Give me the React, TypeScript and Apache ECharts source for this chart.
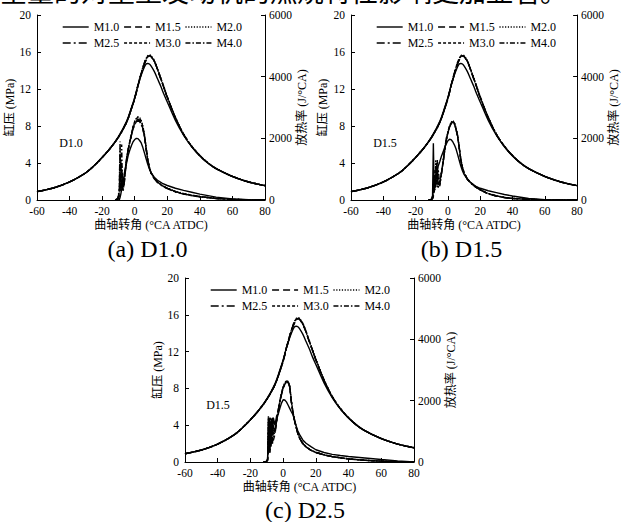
import React, { useEffect, useRef } from "react";
import * as echarts from "echarts";

const names = ["M1.0", "M1.5", "M2.0", "M2.5", "M3.0", "M4.0"];

// crank angle grid for cylinder pressure (°CA ATDC)
const crankP = [-60, -50, -40, -30, -25, -20, -15, -10, -5, -2, 0, 2, 4, 6, 7, 8, 9, 10, 12, 14, 16, 18, 20, 25, 30, 35, 40, 45, 50, 60, 70, 80];
// cylinder pressure (MPa)
const pM10 = [0.9, 1.3, 1.95, 2.95, 3.7, 4.6, 5.6, 6.85, 8.5, 10.0, 11.1, 12.4, 13.5, 14.4, 14.7, 14.75, 14.7, 14.5, 13.9, 13.1, 12.3, 11.4, 10.6, 8.6, 7.0, 5.75, 4.75, 3.98, 3.38, 2.54, 1.95, 1.55];
const pM15 = [0.9, 1.3, 1.95, 2.95, 3.7, 4.6, 5.6, 6.8, 8.4, 9.9, 11.0, 12.4, 13.7, 14.8, 15.2, 15.5, 15.6, 15.5, 15.0, 14.1, 13.1, 12.1, 11.1, 8.9, 7.1, 5.8, 4.8, 4.0, 3.4, 2.55, 1.95, 1.55];
const pM20 = [0.9, 1.3, 1.95, 2.95, 3.7, 4.6, 5.6, 6.8, 8.4, 9.9, 11.0, 12.45, 13.75, 14.9, 15.3, 15.6, 15.7, 15.6, 15.1, 14.2, 13.2, 12.2, 11.2, 8.95, 7.15, 5.82, 4.82, 4.02, 3.41, 2.56, 1.96, 1.56];
const pM25 = [0.9, 1.3, 1.95, 2.95, 3.7, 4.6, 5.6, 6.8, 8.4, 9.85, 10.95, 12.35, 13.6, 14.7, 15.1, 15.45, 15.55, 15.45, 15.0, 14.1, 13.1, 12.1, 11.1, 8.9, 7.1, 5.8, 4.8, 4.0, 3.4, 2.55, 1.95, 1.55];
const pM30 = [0.9, 1.3, 1.95, 2.95, 3.7, 4.6, 5.6, 6.8, 8.4, 9.9, 11.0, 12.4, 13.7, 14.85, 15.25, 15.55, 15.65, 15.55, 15.05, 14.15, 13.15, 12.15, 11.15, 8.92, 7.12, 5.81, 4.81, 4.01, 3.4, 2.55, 1.95, 1.55];
const pM40 = [0.9, 1.3, 1.95, 2.95, 3.7, 4.6, 5.6, 6.8, 8.4, 9.85, 10.95, 12.3, 13.6, 14.75, 15.15, 15.5, 15.6, 15.5, 15.0, 14.1, 13.1, 12.1, 11.1, 8.9, 7.1, 5.8, 4.8, 4.0, 3.4, 2.55, 1.95, 1.55];

// crank angle grid for heat release rate
const crankH = [-12, -10.5, -9.5, -9, -8.5, -8, -7.5, -7, -6.5, -6, -5, -4, -3, -2, -1, 0, 1, 2, 3, 4, 5, 6, 7, 8, 9, 10, 12, 14, 17, 20, 25, 30, 35, 40, 50, 60, 70, 80];

// (a) D1.0 heat release rate (J/°CA)
const hA10 = [0, 0, 0, 80, 200, 350, 500, 650, 800, 950, 1200, 1450, 1620, 1770, 1890, 1960, 2000, 1990, 1930, 1850, 1700, 1520, 1340, 1160, 1010, 890, 740, 640, 540, 470, 380, 310, 250, 190, 95, 35, 10, 0];
const hA15 = [0, 20, 120, 300, 600, 500, 400, 350, 500, 800, 1300, 1620, 1880, 2120, 2330, 2480, 2580, 2620, 2600, 2500, 2330, 2080, 1680, 1300, 1050, 890, 700, 580, 460, 380, 270, 200, 150, 110, 50, 20, 5, 0];
const hA20 = [0, 30, 150, 500, 800, 600, 700, 450, 550, 850, 1320, 1650, 1900, 2150, 2380, 2540, 2650, 2700, 2680, 2580, 2400, 2120, 1720, 1330, 1070, 900, 710, 590, 470, 390, 280, 210, 160, 115, 55, 22, 6, 0];
const hA25 = [0, 30, 200, 900, 1300, 400, 900, 500, 650, 900, 1350, 1640, 1870, 2100, 2300, 2450, 2540, 2580, 2570, 2480, 2320, 2060, 1650, 1280, 1030, 870, 690, 570, 450, 370, 260, 190, 140, 100, 45, 18, 5, 0];
const hA30 = [0, 40, 250, 1700, 300, 1100, 500, 300, 600, 850, 1330, 1660, 1910, 2160, 2390, 2550, 2640, 2680, 2660, 2560, 2380, 2100, 1700, 1310, 1060, 890, 700, 580, 460, 380, 270, 200, 150, 110, 50, 20, 5, 0];
const hA40 = [0, 50, 300, 1900, 400, 1800, 300, 600, 500, 800, 1300, 1630, 1880, 2120, 2320, 2460, 2540, 2560, 2540, 2450, 2300, 2050, 1660, 1290, 1040, 880, 700, 580, 460, 380, 270, 200, 150, 110, 50, 20, 5, 0];

// (b) D1.5
const hB10 = [0, 0, 150, 1840, 300, 500, 700, 900, 1000, 1100, 1250, 1420, 1560, 1700, 1820, 1920, 1970, 1960, 1890, 1790, 1660, 1480, 1290, 1100, 950, 830, 680, 570, 450, 380, 300, 240, 180, 130, 50, 10, 0, 0];
const hB15 = [0, 0, 50, 150, 300, 600, 900, 1100, 800, 600, 500, 850, 1200, 1600, 1950, 2180, 2360, 2480, 2540, 2480, 2300, 2080, 1700, 1300, 1050, 880, 680, 560, 430, 330, 200, 130, 80, 50, 20, 5, 0, 0];
const hB20 = [0, 0, 60, 200, 500, 300, 1300, 600, 400, 700, 600, 900, 1250, 1650, 2000, 2220, 2400, 2520, 2580, 2520, 2340, 2100, 1720, 1320, 1060, 890, 690, 570, 440, 340, 210, 140, 85, 55, 22, 6, 0, 0];
const hB25 = [0, 0, 40, 120, 250, 800, 400, 1200, 700, 500, 550, 880, 1220, 1620, 1960, 2190, 2370, 2490, 2550, 2490, 2310, 2080, 1700, 1300, 1050, 880, 680, 560, 430, 330, 200, 130, 80, 50, 20, 5, 0, 0];
const hB30 = [0, 0, 50, 150, 400, 1000, 600, 900, 1300, 400, 600, 870, 1230, 1630, 1970, 2200, 2380, 2500, 2560, 2500, 2320, 2090, 1710, 1310, 1055, 885, 685, 565, 435, 335, 205, 135, 82, 52, 21, 5, 0, 0];
const hB40 = [0, 0, 60, 250, 700, 400, 1100, 500, 900, 1000, 450, 860, 1200, 1600, 1940, 2170, 2350, 2470, 2530, 2470, 2290, 2070, 1690, 1290, 1045, 875, 675, 555, 425, 325, 195, 125, 78, 48, 19, 5, 0, 0];

// (c) D2.5
const hC10 = [0, 0, 100, 1450, 300, 1300, 500, 1400, 900, 1450, 1200, 1500, 1560, 1750, 1920, 2030, 2020, 1960, 1860, 1750, 1640, 1540, 1360, 1170, 1010, 900, 720, 610, 500, 400, 310, 250, 210, 180, 130, 80, 35, 0];
const hC15 = [0, 0, 50, 400, 1400, 300, 800, 600, 1000, 700, 900, 1300, 1650, 1950, 2200, 2400, 2530, 2600, 2580, 2450, 1950, 1600, 1330, 1120, 920, 780, 600, 490, 380, 310, 230, 175, 135, 100, 55, 28, 8, 0];
const hC20 = [0, 0, 80, 1500, 500, 900, 1450, 700, 1100, 800, 1000, 1350, 1700, 2000, 2250, 2450, 2580, 2650, 2630, 2500, 2000, 1640, 1360, 1140, 940, 790, 610, 500, 385, 315, 235, 178, 137, 102, 56, 28, 8, 0];
const hC25 = [0, 0, 60, 800, 1200, 400, 1000, 1300, 600, 1200, 950, 1320, 1660, 1960, 2210, 2410, 2540, 2610, 2590, 2460, 1960, 1610, 1340, 1125, 925, 780, 600, 490, 380, 310, 230, 175, 135, 100, 55, 28, 8, 0];
const hC30 = [0, 0, 70, 1300, 600, 1450, 500, 1000, 1400, 900, 1050, 1340, 1680, 1980, 2230, 2430, 2560, 2630, 2610, 2480, 1980, 1620, 1350, 1130, 930, 785, 605, 495, 382, 312, 232, 176, 136, 101, 55, 28, 8, 0];
const hC40 = [0, 0, 90, 1000, 1450, 600, 1200, 800, 1450, 1000, 1100, 1360, 1700, 1990, 2240, 2440, 2570, 2640, 2620, 2490, 1990, 1630, 1355, 1135, 935, 788, 608, 498, 384, 314, 234, 177, 137, 102, 56, 28, 8, 0];

const panelTitles = ["(a) D1.0", "(b) D1.5", "(c) D2.5"];
const panelTags = ["D1.0", "D1.5", "D1.5"];

const pressureSets = [pM10, pM15, pM20, pM25, pM30, pM40];
const hrrSets = [
  [hA10, hA15, hA20, hA25, hA30, hA40],
  [hB10, hB15, hB20, hB25, hB30, hB40],
  [hC10, hC15, hC20, hC25, hC30, hC40],
];

const SERIF = "'Liberation Serif', 'Noto Sans CJK SC', serif";
const lineTypes: any[] = ["solid", [7, 4], [1.2, 1.6], [8, 3, 2, 3], [3, 2], [5, 2, 1.5, 2]];

const gridBoxes = [
  { left: 37, top: 15, width: 228, height: 185 },
  { left: 351, top: 15, width: 228, height: 185 },
  { left: 185, top: 278, width: 229, height: 184 },
];
const legendPos = [
  { left: 62, top: 21 },
  { left: 376, top: 21 },
  { left: 210, top: 284 },
];
const leftNameGap = [20, 22, 18];
const titlePos = [
  [147.5, 249],
  [461.5, 249],
  [305, 510],
];
const tagPos = [
  [71, 143],
  [385, 143],
  [218, 405],
];

const zip = (xs: number[], ys: number[]) => xs.map((x, i) => [x, ys[i]]);

export default function App() {
  const ref = useRef<HTMLDivElement>(null);
  useEffect(() => {
    document.body.style.margin = "0";
    if (!ref.current) return;
    const chart = echarts.init(ref.current, undefined, { renderer: "svg" });

    const axisCommon = {
      axisLine: { show: true, onZero: false, lineStyle: { color: "#000", width: 1 } },
      axisTick: { show: true, inside: true, length: 4, lineStyle: { color: "#000" } },
      splitLine: { show: false },
      nameTextStyle: { color: "#000", fontSize: 12, fontFamily: SERIF },
    };
    const labelStyle = {
      color: "#000",
      fontSize: 11.5,
      fontFamily: SERIF,
      formatter: (v: number) => String(v),
    };

    const xAxis = gridBoxes.map((_, i) => ({
      ...axisCommon,
      type: "value",
      gridIndex: i,
      min: -60,
      max: 80,
      interval: 20,
      axisLabel: { ...labelStyle, margin: 5 },
      name: "曲轴转角 (°CA ATDC)",
      nameLocation: "middle",
      nameGap: 19,
    }));

    const yAxis: any[] = [];
    gridBoxes.forEach((_, i) => {
      yAxis.push({
        ...axisCommon,
        type: "value",
        gridIndex: i,
        position: "left",
        min: 0,
        max: 20,
        interval: 4,
        axisLabel: { ...labelStyle, margin: 6 },
        name: "缸压 (MPa)",
        nameLocation: "middle",
        nameRotate: 90,
        nameGap: leftNameGap[i],
      });
      yAxis.push({
        ...axisCommon,
        type: "value",
        gridIndex: i,
        position: "right",
        min: 0,
        max: 6000,
        interval: 2000,
        axisLabel: { ...labelStyle, margin: 4 },
        name: "放热率 (J/°CA)",
        nameLocation: "middle",
        nameRotate: 90,
        nameGap: 30,
      });
    });

    const series: any[] = [];
    gridBoxes.forEach((_, p) => {
      names.forEach((nm, k) => {
        series.push({
          type: "line",
          name: nm,
          xAxisIndex: p,
          yAxisIndex: 2 * p,
          data: zip(crankP, pressureSets[k]),
          smooth: 0.35,
          symbol: "none",
          lineStyle: { color: "#000", width: 1.4, type: lineTypes[k] },
          itemStyle: { color: "#000" },
        });
        series.push({
          type: "line",
          name: nm,
          xAxisIndex: p,
          yAxisIndex: 2 * p + 1,
          data: zip(crankH, hrrSets[p][k]),
          symbol: "none",
          lineStyle: { color: "#000", width: 1.4, type: lineTypes[k] },
          itemStyle: { color: "#000" },
        });
      });
    });

    const legend = legendPos.map((lp) => ({
      data: names,
      left: lp.left,
      top: lp.top,
      width: 185,
      orient: "horizontal",
      itemWidth: 26,
      itemHeight: 10,
      itemGap: 4,
      padding: 0,
      selectedMode: false,
      itemStyle: { color: "rgba(0,0,0,0)", borderColor: "rgba(0,0,0,0)", borderWidth: 0 },
      lineStyle: { width: 1.4 },
      textStyle: { color: "#000", fontSize: 12, fontFamily: SERIF },
    }));

    const graphic: any[] = [
      {
        type: "text",
        x: 0,
        y: -10,
        style: {
          text: "全量的对重型发动机的燃烧特性影响更加显著。",
          fill: "#000",
          fontSize: 27,
          fontFamily: "'Noto Sans CJK SC', sans-serif",
          align: "left",
          verticalAlign: "middle",
        },
      },
    ];
    panelTitles.forEach((t, i) => {
      graphic.push({
        type: "text",
        x: titlePos[i][0],
        y: titlePos[i][1],
        style: { text: t, fill: "#000", fontSize: 24, fontFamily: SERIF, align: "center", verticalAlign: "middle" },
      });
      graphic.push({
        type: "text",
        x: tagPos[i][0],
        y: tagPos[i][1],
        style: { text: panelTags[i], fill: "#000", fontSize: 12, fontFamily: SERIF, align: "center", verticalAlign: "middle" },
      });
    });

    chart.setOption({
      animation: false,
      backgroundColor: "#fff",
      grid: gridBoxes.map((g) => ({ ...g, containLabel: false })),
      xAxis,
      yAxis,
      legend,
      series,
      graphic,
    });
    return () => chart.dispose();
  }, []);
  return <div ref={ref} style={{ width: 621, height: 522 }} />;
}
